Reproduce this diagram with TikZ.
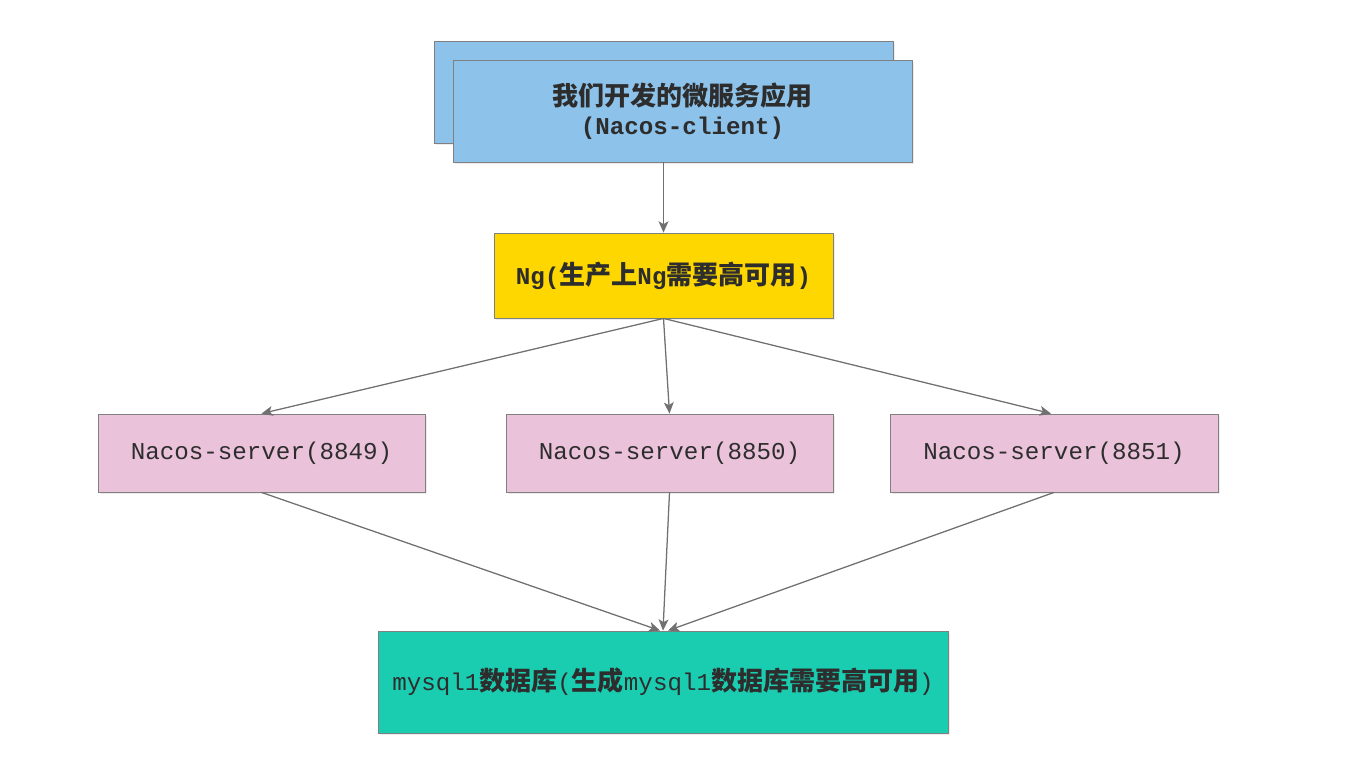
\documentclass[tikz,border=0pt]{standalone}
\usepackage{fontspec}
\usepackage{tikz}
\usetikzlibrary{arrows.meta,shadows}
\newfontfamily\cjk{Noto Sans CJK SC}
\newfontfamily\lat{Liberation Mono}[Scale=0.93]
\newcommand{\zh}[1]{{\cjk\bfseries #1}}
\definecolor{clientblue}{RGB}{141,195,235}
\definecolor{nggold}{RGB}{255,215,0}
\definecolor{serverpink}{RGB}{234,194,218}
\definecolor{dbteal}{RGB}{26,204,176}
\definecolor{boxline}{RGB}{128,128,128}
\definecolor{arrowgray}{RGB}{112,112,112}
\definecolor{txtgray}{RGB}{45,45,45}

\begin{document}
\begin{tikzpicture}[
		x=0.025cm, y=-0.025cm,
		font=\fontsize{18.5}{21}\selectfont\lat,
		box/.style={draw=boxline, line width=0.6pt, text=txtgray, align=center, inner sep=0pt,
			drop shadow={opacity=0.15, shadow xshift=1.5pt, shadow yshift=-1.5pt}},
		link/.style={-{Stealth[length=8pt,width=7pt,inset=2pt]}, draw=arrowgray, fill=arrowgray, line width=0.9pt}
		]
		\useasboundingbox (0,0) rectangle (1364,768);
		
		% Client boxes
		\node[box, fill=clientblue, minimum width=459*0.025cm, minimum height=102*0.025cm]
		(clientback) at (663.5,92) {};
		\node[box, fill=clientblue, minimum width=459*0.025cm, minimum height=102*0.025cm]
		(client) at (682.5,111) {\zh{我们开发的微服务应用}\\{\bfseries(Nacos-client)}};
		
		% Ng box
		\node[box, fill=nggold, minimum width=339*0.025cm, minimum height=85*0.025cm]
		(ng) at (663.5,275.5) {\bfseries Ng(\zh{生产上}Ng\zh{需要高可用})};
		
		% Server boxes
		\node[box, fill=serverpink, minimum width=327*0.025cm, minimum height=78*0.025cm]
		(s1) at (261.5,453) {Nacos-server(8849)};
		\node[box, fill=serverpink, minimum width=327*0.025cm, minimum height=78*0.025cm]
		(s2) at (669.5,453) {Nacos-server(8850)};
		\node[box, fill=serverpink, minimum width=328*0.025cm, minimum height=78*0.025cm]
		(s3) at (1054,453) {Nacos-server(8851)};
		
		% Database box
		\node[box, fill=dbteal, minimum width=570*0.025cm, minimum height=102*0.025cm]
		(db) at (663,682) {mysql1\zh{数据库}(\zh{生成}mysql1\zh{数据库需要高可用})};
		
		% Arrows
		\draw[link] (client.south -| ng.north) -- (ng.north);
		\draw[link] (ng.south) -- (s1.north);
		\draw[link] (ng.south) -- (s2.north);
		\draw[link] (ng.south) -- ([xshift=-0.075cm]s3.north);
		\draw[link] (s1.south) -- ([xshift=-0.075cm]db.north);
		\draw[link] (s2.south) -- (db.north);
		\draw[link] (s3.south) -- ([xshift=0.125cm]db.north);
		\end{tikzpicture}
\end{document}
